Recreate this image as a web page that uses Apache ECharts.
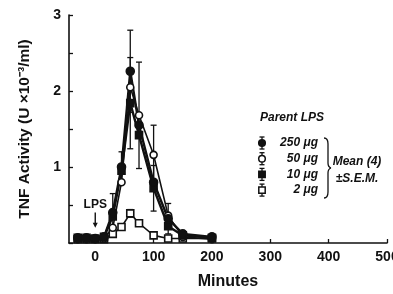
<!DOCTYPE html>
<html>
<head>
<meta charset="utf-8">
<script src="https://cdn.jsdelivr.net/npm/echarts@6/dist/echarts.min.js"></script>
<style>
  html, body { margin: 0; padding: 0; background: #fff; }
  #chart { width: 393px; height: 294px; }
</style>
</head>
<body>
<div id="chart"></div>
<script>
// sampling times (minutes after LPS)
const minutes = [-30, -15, 0, 15, 30, 45, 60, 75, 100, 125, 150, 200];

// TNF activity (U x10^-3/ml), mean of 4
const lps250 = [0.07, 0.07, 0.06, 0.08, 0.40, 1.00, 2.26, 1.55, 0.80, 0.32, 0.12, 0.08];
const lps50  = [0.05, 0.05, 0.05, 0.06, 0.20, 0.80, 2.05, 1.68, 1.16, 0.36, 0.08, 0.05];
const lps10  = [0.07, 0.07, 0.06, 0.08, 0.35, 0.95, 1.84, 1.42, 0.72, 0.22, 0.10, 0.07];
const lps2   = [0.05, 0.05, 0.05, 0.05, 0.12, 0.21, 0.39, 0.26, 0.10, 0.06, 0.06, 0.06];

// S.E.M. (0 = bar hidden behind marker)
const sem250 = [0, 0, 0, 0, 0.25, 0.20, 0.54, 0, 0, 0.20, 0, 0];
const sem50  = [0, 0, 0, 0, 0, 0, 0, 0.70, 0.39, 0, 0, 0];
const sem10  = [0, 0, 0, 0, 0, 0, 0.60, 0, 0.30, 0, 0, 0];
const sem2   = [0, 0, 0, 0, 0, 0, 0.05, 0, 0, 0, 0, 0];

const xTicks = [0, 100, 200, 300, 400, 500];
const legendLabels = ['250 \u03bcg', '50 \u03bcg', '10 \u03bcg', '2 \u03bcg'];

const ink = '#111';
const font = '"Liberation Sans Narrow", "Liberation Sans", Arial, sans-serif';

let chart = echarts.init(document.getElementById('chart'));

function pairs(vals) {
  return minutes.map((t, i) => [t, vals[i]]);
}

function errData(vals, sem) {
  let out = [];
  minutes.forEach((t, i) => {
    if (sem[i] > 0) out.push([t, vals[i] - sem[i], vals[i] + sem[i]]);
  });
  return out;
}

function errSeries(vals, sem) {
  return {
    type: 'custom',
    z: 1,
    silent: true,
    data: errData(vals, sem),
    renderItem: function (params, api) {
      let lo = api.coord([api.value(0), api.value(1)]);
      let hi = api.coord([api.value(0), api.value(2)]);
      let w = 3;
      let st = { stroke: ink, lineWidth: 1.3 };
      return {
        type: 'group',
        children: [
          { type: 'line', shape: { x1: lo[0], y1: lo[1], x2: hi[0], y2: hi[1] }, style: st },
          { type: 'line', shape: { x1: hi[0] - w, y1: hi[1], x2: hi[0] + w, y2: hi[1] }, style: st },
          { type: 'line', shape: { x1: lo[0] - w, y1: lo[1], x2: lo[0] + w, y2: lo[1] }, style: st }
        ]
      };
    }
  };
}

function lineSeries(name, vals, symbol, filled, width, size) {
  return {
    name: name,
    type: 'line',
    z: 3,
    data: pairs(vals),
    symbol: symbol,
    symbolSize: size,
    showAllSymbol: true,
    lineStyle: { color: ink, width: width },
    itemStyle: { color: filled ? ink : '#fff', borderColor: ink, borderWidth: 1.6 },
    emphasis: { disabled: true }
  };
}

let option = {
  animation: false,
  backgroundColor: '#fff',
  grid: { left: 69, right: 6, top: 15, bottom: 51, outerBoundsMode: 'none' },
  xAxis: {
    type: 'value',
    min: -45,
    max: 500,
    name: 'Minutes',
    nameLocation: 'middle',
    nameGap: 31,
    nameTextStyle: { color: ink, fontFamily: font, fontWeight: 'bold', fontSize: 16 },
    axisLine: { onZero: false, lineStyle: { color: ink, width: 1.6 } },
    axisTick: { inside: true, length: 4, customValues: xTicks, lineStyle: { color: ink, width: 1.3 } },
    axisLabel: { customValues: xTicks, color: ink, fontFamily: font, fontWeight: 'bold', fontSize: 14, margin: 7 },
    splitLine: { show: false }
  },
  yAxis: {
    type: 'value',
    min: 0,
    max: 3,
    interval: 0.5,
    name: 'TNF Activity (U \u00d710\u207b\u00b3/ml)',
    nameLocation: 'middle',
    nameGap: 36,
    nameTextStyle: { color: ink, fontFamily: font, fontWeight: 'bold', fontSize: 15.5 },
    axisLine: { show: true, onZero: false, lineStyle: { color: ink, width: 1.6 } },
    axisTick: { show: true, inside: true, length: 4, lineStyle: { color: ink, width: 1.3 } },
    axisLabel: {
      color: ink, fontFamily: font, fontWeight: 'bold', fontSize: 14, margin: 8,
      formatter: v => (v > 0 && v % 1 === 0) ? String(v) : ''
    },
    splitLine: { show: false }
  },
  series: [
    errSeries(lps250, sem250),
    errSeries(lps50, sem50),
    errSeries(lps10, sem10),
    errSeries(lps2, sem2),
    lineSeries(legendLabels[3], lps2, 'rect', false, 1.6, 7),
    lineSeries(legendLabels[1], lps50, 'circle', false, 1.6, 7),
    lineSeries(legendLabels[2], lps10, 'rect', true, 2.4, 7),
    lineSeries(legendLabels[0], lps250, 'circle', true, 2.4, 8)
  ]
};

chart.setOption(option);

// LPS arrow at t = 0 and the legend block, drawn with graphic elements
let p0 = chart.convertToPixel({ gridIndex: 0 }, [0, 0.5]);
let p1 = chart.convertToPixel({ gridIndex: 0 }, [0, 0.4]);
let p2 = chart.convertToPixel({ gridIndex: 0 }, [0, 0.2]);

let g = [
  { type: 'text', x: p0[0], y: p0[1], style: { text: 'LPS', font: 'bold 12px ' + font, fill: ink, align: 'center', verticalAlign: 'middle' } },
  { type: 'line', shape: { x1: p1[0], y1: p1[1], x2: p2[0], y2: p2[1] - 3 }, style: { stroke: ink, lineWidth: 1.4 } },
  { type: 'polygon', shape: { points: [[p2[0] - 2.5, p2[1] - 5], [p2[0] + 2.5, p2[1] - 5], [p2[0], p2[1]]] }, style: { fill: ink } }
];

const legX = 262, legY0 = 143, legDy = 15.7;
const legSym = [['circle', true], ['circle', false], ['rect', true], ['rect', false]];
const legFont = 'italic bold 12px ' + font;
g.push({ type: 'text', x: 292, y: 118, style: { text: 'Parent LPS', font: legFont, fill: ink, align: 'center', verticalAlign: 'middle' } });
legSym.forEach((s, i) => {
  let y = legY0 + i * legDy;
  let st = { stroke: ink, lineWidth: 1.3 };
  g.push({ type: 'line', shape: { x1: legX, y1: y - 6, x2: legX, y2: y + 6 }, style: st });
  g.push({ type: 'line', shape: { x1: legX - 2.5, y1: y - 6, x2: legX + 2.5, y2: y - 6 }, style: st });
  g.push({ type: 'line', shape: { x1: legX - 2.5, y1: y + 6, x2: legX + 2.5, y2: y + 6 }, style: st });
  let fill = s[1] ? ink : '#fff';
  if (s[0] === 'circle') {
    g.push({ type: 'circle', shape: { cx: legX, cy: y, r: 3.3 }, style: { fill: fill, stroke: ink, lineWidth: 1.5 } });
  } else {
    g.push({ type: 'rect', shape: { x: legX - 3.2, y: y - 3.2, width: 6.4, height: 6.4 }, style: { fill: fill, stroke: ink, lineWidth: 1.5 } });
  }
  g.push({ type: 'text', x: 318, y: y, style: { text: legendLabels[i], font: legFont, fill: ink, align: 'right', verticalAlign: 'middle' } });
});
// curly brace grouping the four doses
const braceStyle = { fill: 'none', stroke: ink, lineWidth: 1.3 };
g.push({ type: 'bezierCurve', shape: { x1: 324, y1: 138, cpx1: 328, cpy1: 138, x2: 328, y2: 144 }, style: braceStyle });
g.push({ type: 'line', shape: { x1: 328, y1: 144, x2: 328, y2: 163 }, style: braceStyle });
g.push({ type: 'bezierCurve', shape: { x1: 328, y1: 163, cpx1: 328, cpy1: 167, x2: 331, y2: 168 }, style: braceStyle });
g.push({ type: 'bezierCurve', shape: { x1: 331, y1: 168, cpx1: 328, cpy1: 169, x2: 328, y2: 173 }, style: braceStyle });
g.push({ type: 'line', shape: { x1: 328, y1: 173, x2: 328, y2: 192 }, style: braceStyle });
g.push({ type: 'bezierCurve', shape: { x1: 328, y1: 192, cpx1: 328, cpy1: 198, x2: 324, y2: 198 }, style: braceStyle });
g.push({ type: 'text', x: 357, y: 162, style: { text: 'Mean (4)', font: legFont, fill: ink, align: 'center', verticalAlign: 'middle' } });
g.push({ type: 'text', x: 357, y: 179, style: { text: '\u00b1S.E.M.', font: legFont, fill: ink, align: 'center', verticalAlign: 'middle' } });

chart.setOption({ graphic: g });
</script>
</body>
</html>
